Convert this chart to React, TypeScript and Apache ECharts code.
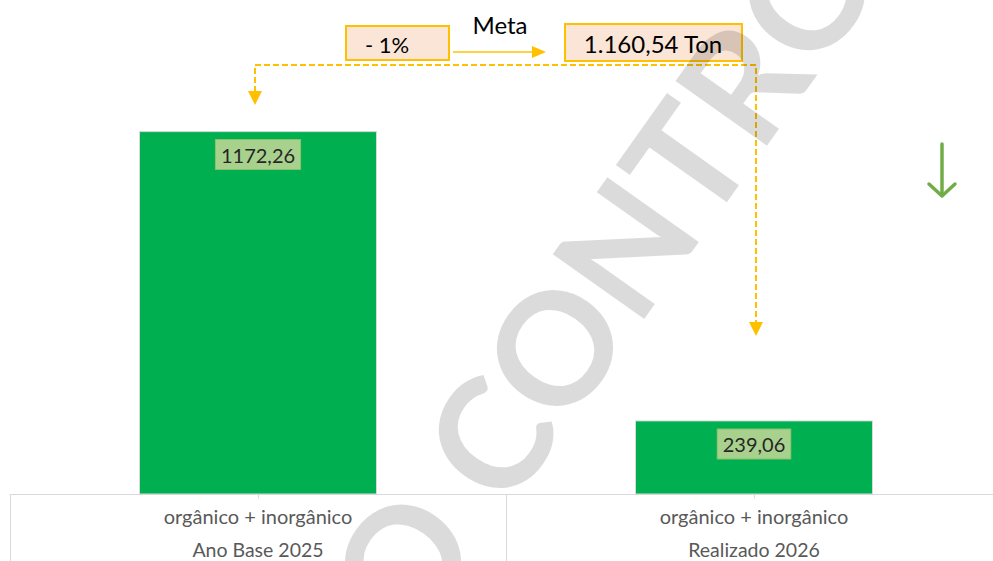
import React, { useEffect, useRef } from "react";
import * as echarts from "echarts";

const categories = ["orgânico + inorgânico", "orgânico + inorgânico"];
const groups = ["Ano Base 2025", "Realizado 2026"];
const values = [1172.26, 239.06];
const goalPct = "- 1%";
const goalLabel = "Meta";
const goalValue = "1.160,54 Ton";
const watermarkLeft = "CÓPIA NÃO ";
const watermarkRight = "CONTROLADA";

const FONT = "Lato, 'Noto Sans', sans-serif";
const ORANGE = "#ffc000";

const fmt = (v: number) => v.toFixed(2).replace(".", ",");

export default function App() {
  const ref = useRef<HTMLDivElement>(null);
  useEffect(() => {
    if (!ref.current) return;
    const chart = echarts.init(ref.current, null, { renderer: "svg" });
    const deg = 54.7;
    const rot = (deg * Math.PI) / 180;
    const fs = 155;
    const c = Math.cos(rot);
    const s = Math.sin(rot);
    // anchor: start of the "C" so that its centre lands near (475, 428)
    const half = 0.66 * fs * 0.5;
    const down = 15;
    const ax = 475 - half * c + down * s;
    const ay = 428 + half * s + down * c;
    const wmStyle = {
      fontSize: fs,
      fontWeight: "bold",
      fontFamily: FONT,
      fill: "rgba(0,0,0,0.14)",
      textVerticalAlign: "middle",
    };
    chart.setOption({
      animation: false,
      backgroundColor: "#ffffff",
      grid: { left: 10, width: 992, top: 60.5, bottom: 66.5, outerBoundsMode: "none", containLabel: false },
      xAxis: [
        {
          type: "category",
          position: "bottom",
          data: categories.map((_, i) => String(i)),
          axisLine: { show: true, lineStyle: { color: "#d9d9d9", width: 1 } },
          axisTick: { show: true, length: 67, lineStyle: { color: "#d9d9d9", width: 1 } },
          axisLabel: {
            margin: 5,
            interval: 0,
            formatter: (_: string, idx: number) => `{a|${categories[idx]}}\n{b|${groups[idx]}}`,
            rich: {
              a: { fontSize: 20, color: "#595959", fontFamily: FONT, lineHeight: 33 },
              b: { fontSize: 19.5, color: "#595959", fontFamily: FONT, lineHeight: 33 },
            },
          },
        },
        {
          type: "category",
          position: "bottom",
          offset: 0,
          data: categories.map((_, i) => String(i)),
          axisLine: { show: false },
          axisTick: { show: true, alignWithLabel: true, length: 4, lineStyle: { color: "#d9d9d9" } },
          axisLabel: { show: false },
        },
      ],
      yAxis: { type: "value", min: 0, max: 1400, show: false, splitLine: { show: false } },
      series: [
        {
          type: "bar",
          data: values,
          barWidth: 238,
          itemStyle: { color: "#00b050", borderColor: "#d9d9d9", borderWidth: 1 },
          label: {
            show: true,
            position: "insideTop",
            distance: 9,
            formatter: (p: any) => fmt(p.value),
            color: "#262626",
            fontSize: 20,
            fontFamily: FONT,
            backgroundColor: "#a9d18e",
            borderColor: "#8cbf6a",
            borderWidth: 1,
            padding: [5, 5, 4, 5],
          },
        },
      ],
      graphic: [
        {
          type: "text",
          x: 500,
          y: 24,
          style: { text: goalLabel, fontSize: 24, fontFamily: FONT, fill: "#000", textAlign: "center", textVerticalAlign: "middle" },
        },
        {
          type: "rect",
          shape: { x: 346, y: 26, width: 103, height: 34 },
          style: { fill: "#fbe5d6", stroke: ORANGE, lineWidth: 2 },
        },
        {
          type: "text",
          x: 387,
          y: 44,
          style: { text: goalPct, fontSize: 22, fontFamily: FONT, fill: "#000", textAlign: "center", textVerticalAlign: "middle" },
        },
        {
          type: "line",
          shape: { x1: 453, y1: 52, x2: 534, y2: 52 },
          style: { stroke: ORANGE, lineWidth: 1.5 },
        },
        {
          type: "polygon",
          shape: { points: [[532, 46], [546, 52], [532, 58]] },
          style: { fill: ORANGE },
        },
        {
          type: "rect",
          shape: { x: 565, y: 24, width: 177, height: 37 },
          style: { fill: "#fbe5d6", stroke: ORANGE, lineWidth: 2 },
        },
        {
          type: "text",
          x: 653,
          y: 43,
          style: { text: goalValue, fontSize: 24, fontFamily: FONT, fill: "#000", textAlign: "center", textVerticalAlign: "middle" },
        },
        {
          type: "polyline",
          shape: { points: [[255, 92], [255, 65], [756, 65], [756, 323]] },
          style: { stroke: ORANGE, lineWidth: 2, lineDash: [6, 3], fill: null },
        },
        {
          type: "polygon",
          shape: { points: [[248, 91], [262, 91], [255, 105]] },
          style: { fill: ORANGE },
        },
        {
          type: "polygon",
          shape: { points: [[749, 322], [763, 322], [756, 336]] },
          style: { fill: ORANGE },
        },
        {
          type: "line",
          shape: { x1: 942, y1: 144, x2: 942, y2: 195 },
          style: { stroke: "#70ad47", lineWidth: 3.5, lineCap: "round" },
        },
        {
          type: "polyline",
          shape: { points: [[929, 184], [942, 196], [955, 184]] },
          style: { stroke: "#70ad47", lineWidth: 3.5, lineCap: "round", lineJoin: "round", fill: null },
        },
        {
          type: "text",
          x: ax,
          y: ay,
          rotation: rot,
          z: 100,
          silent: true,
          style: { ...wmStyle, text: watermarkRight, textAlign: "left" },
        },
        {
          type: "text",
          x: ax,
          y: ay,
          rotation: rot,
          z: 100,
          silent: true,
          style: { ...wmStyle, text: watermarkLeft, textAlign: "right" },
        },
      ],
    });
    return () => chart.dispose();
  }, []);
  return (
    <div
      ref={ref}
      style={{ position: "fixed", left: 0, top: 0, width: 993, height: 561, background: "#fff" }}
    />
  );
}
